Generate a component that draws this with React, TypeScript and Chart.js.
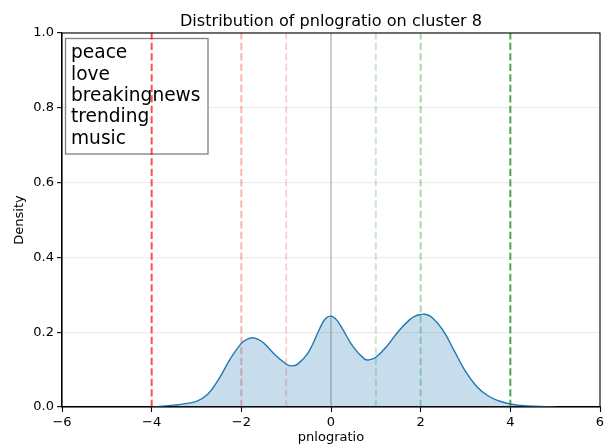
import React, { useEffect, useRef } from "react";
import { Chart, registerables } from "chart.js";

Chart.register(...registerables);

const TITLE = "Distribution of pnlogratio on cluster 8";
const X_LABEL = "pnlogratio";
const Y_LABEL = "Density";
const BOX_WORDS = ["peace", "love", "breakingnews", "trending", "music"];

const kdeX = [-4.0, -3.75, -3.5, -3.25, -3.0, -2.75, -2.5, -2.25, -2.0, -1.875, -1.75, -1.625, -1.5, -1.25, -1.0, -0.9, -0.75, -0.5, -0.25, -0.125, 0.0, 0.125, 0.25, 0.5, 0.75, 0.85, 1.0, 1.25, 1.5, 1.75, 1.875, 2.0, 2.1, 2.25, 2.5, 2.75, 3.0, 3.25, 3.5, 3.75, 4.0, 4.25, 4.5, 5.0];
const kdeY = [0.0, 0.002, 0.005, 0.009, 0.015, 0.034, 0.075, 0.128, 0.170, 0.181, 0.185, 0.181, 0.171, 0.140, 0.115, 0.110, 0.114, 0.147, 0.210, 0.236, 0.243, 0.233, 0.210, 0.160, 0.128, 0.126, 0.133, 0.163, 0.202, 0.233, 0.243, 0.247, 0.248, 0.240, 0.205, 0.150, 0.095, 0.055, 0.030, 0.016, 0.008, 0.004, 0.002, 0.0];

const vlineX = [-4, -2, -1, 0, 1, 2, 4];
const vlineColors = [
  "rgba(255,0,0,0.7)",
  "rgba(255,0,0,0.3)",
  "rgba(255,0,0,0.18)",
  "rgba(128,128,128,0.4)",
  "rgba(0,128,0,0.2)",
  "rgba(0,128,0,0.32)",
  "rgba(0,128,0,0.7)",
];
const vlineDashed = [true, true, true, false, true, true, true];

const FONT = "'DejaVu Sans', sans-serif";

export default function App() {
  const ref = useRef<HTMLCanvasElement | null>(null);

  useEffect(() => {
    if (!ref.current) return;

    const boxPlugin = {
      id: "textBox",
      beforeDatasetsDraw(chart: any) {
        const { ctx, chartArea } = chart;
        ctx.save();
        const bx = chartArea.left + 3.5;
        const by = chartArea.top + 5.5;
        const bw = 142.5;
        const bh = 115.5;
        ctx.fillStyle = "rgba(255,255,255,0.8)";
        ctx.fillRect(bx, by, bw, bh);
        ctx.strokeStyle = "#808080";
        ctx.lineWidth = 1.3;
        ctx.strokeRect(bx, by, bw, bh);
        ctx.fillStyle = "#000";
        ctx.font = `18.6px ${FONT}`;
        ctx.textBaseline = "alphabetic";
        BOX_WORDS.forEach((w, i) => {
          ctx.fillText(w, bx + 5.5, by + 19.8 + i * 21.3);
        });
        ctx.restore();
      },
      afterDraw(chart: any) {
        const { ctx, chartArea } = chart;
        ctx.save();
        ctx.strokeStyle = "#000";
        ctx.lineWidth = 1.1;
        ctx.strokeRect(chartArea.left, chartArea.top, chartArea.right - chartArea.left, chartArea.bottom - chartArea.top);
        ctx.fillStyle = "#000";
        ctx.font = `16.1px ${FONT}`;
        ctx.textAlign = "center";
        ctx.textBaseline = "alphabetic";
        ctx.fillText(TITLE, (chartArea.left + chartArea.right) / 2, 25.5);
        ctx.restore();
      },
    };

    const datasets: any[] = [
      {
        data: kdeX.map((x, i) => ({ x, y: kdeY[i] })),
        borderColor: "#1f77b4",
        backgroundColor: "rgba(31,119,180,0.25)",
        borderWidth: 1.4,
        fill: "origin",
        pointRadius: 0,
        tension: 0.4,
        order: 0,
      },
    ];
    vlineX.forEach((x, i) => {
      datasets.push({
        data: [
          { x, y: 0 },
          { x, y: 1 },
        ],
        borderColor: vlineColors[i],
        borderWidth: 2,
        borderDash: vlineDashed[i] ? [7.3, 3.2] : [],
        pointRadius: 0,
        fill: false,
        order: 1,
      });
    });

    const chart = new Chart(ref.current, {
      type: "line",
      data: { datasets },
      plugins: [boxPlugin],
      options: {
        animation: false,
        responsive: false,
        maintainAspectRatio: false,
        layout: { padding: { left: 0, right: 6, top: 33, bottom: 0 } },
        plugins: {
          legend: { display: false },
          tooltip: { enabled: false },
          title: { display: false },
        },
        scales: {
          x: {
            type: "linear",
            min: -6,
            max: 6,
            afterFit: (s: any) => {
              s.height = 41;
              s.paddingLeft = 0;
              s.paddingRight = 0;
            },
            ticks: {
              stepSize: 2,
              color: "#000",
              font: { family: FONT, size: 13 },
              padding: 3,
              maxRotation: 0,
              callback: (v: any) => String(v).replace("-", "\u2212"),
            },
            grid: {
              drawOnChartArea: false,
              tickColor: "#000",
              tickLength: 5,
              tickWidth: 1.1,
            },
            border: { color: "#000", width: 1.1 },
            title: {
              display: true,
              text: X_LABEL,
              color: "#000",
              font: { family: FONT, size: 13 },
              padding: { top: 2, bottom: 3 },
            },
          },
          y: {
            type: "linear",
            min: 0,
            max: 1,
            afterFit: (s: any) => {
              s.width = 62;
            },
            ticks: {
              stepSize: 0.2,
              color: "#000",
              font: { family: FONT, size: 13 },
              padding: 3,
              callback: (v: any) => Number(v).toFixed(1),
            },
            grid: {
              color: "rgba(0,0,0,0.07)",
              lineWidth: 1.3,
              tickColor: "#000",
              tickLength: 5,
              tickWidth: 1.1,
            },
            border: { color: "#000", width: 1.1 },
            title: {
              display: true,
              text: Y_LABEL,
              color: "#000",
              font: { family: FONT, size: 13 },
              padding: { top: 12, bottom: 0 },
            },
          },
        },
      },
    });
    return () => chart.destroy();
  }, []);

  return (
    <div style={{ position: "fixed", left: 0, top: 0, width: 606, height: 448 }}>
      <canvas ref={ref} width={606} height={448} style={{ display: "block" }} />
    </div>
  );
}
